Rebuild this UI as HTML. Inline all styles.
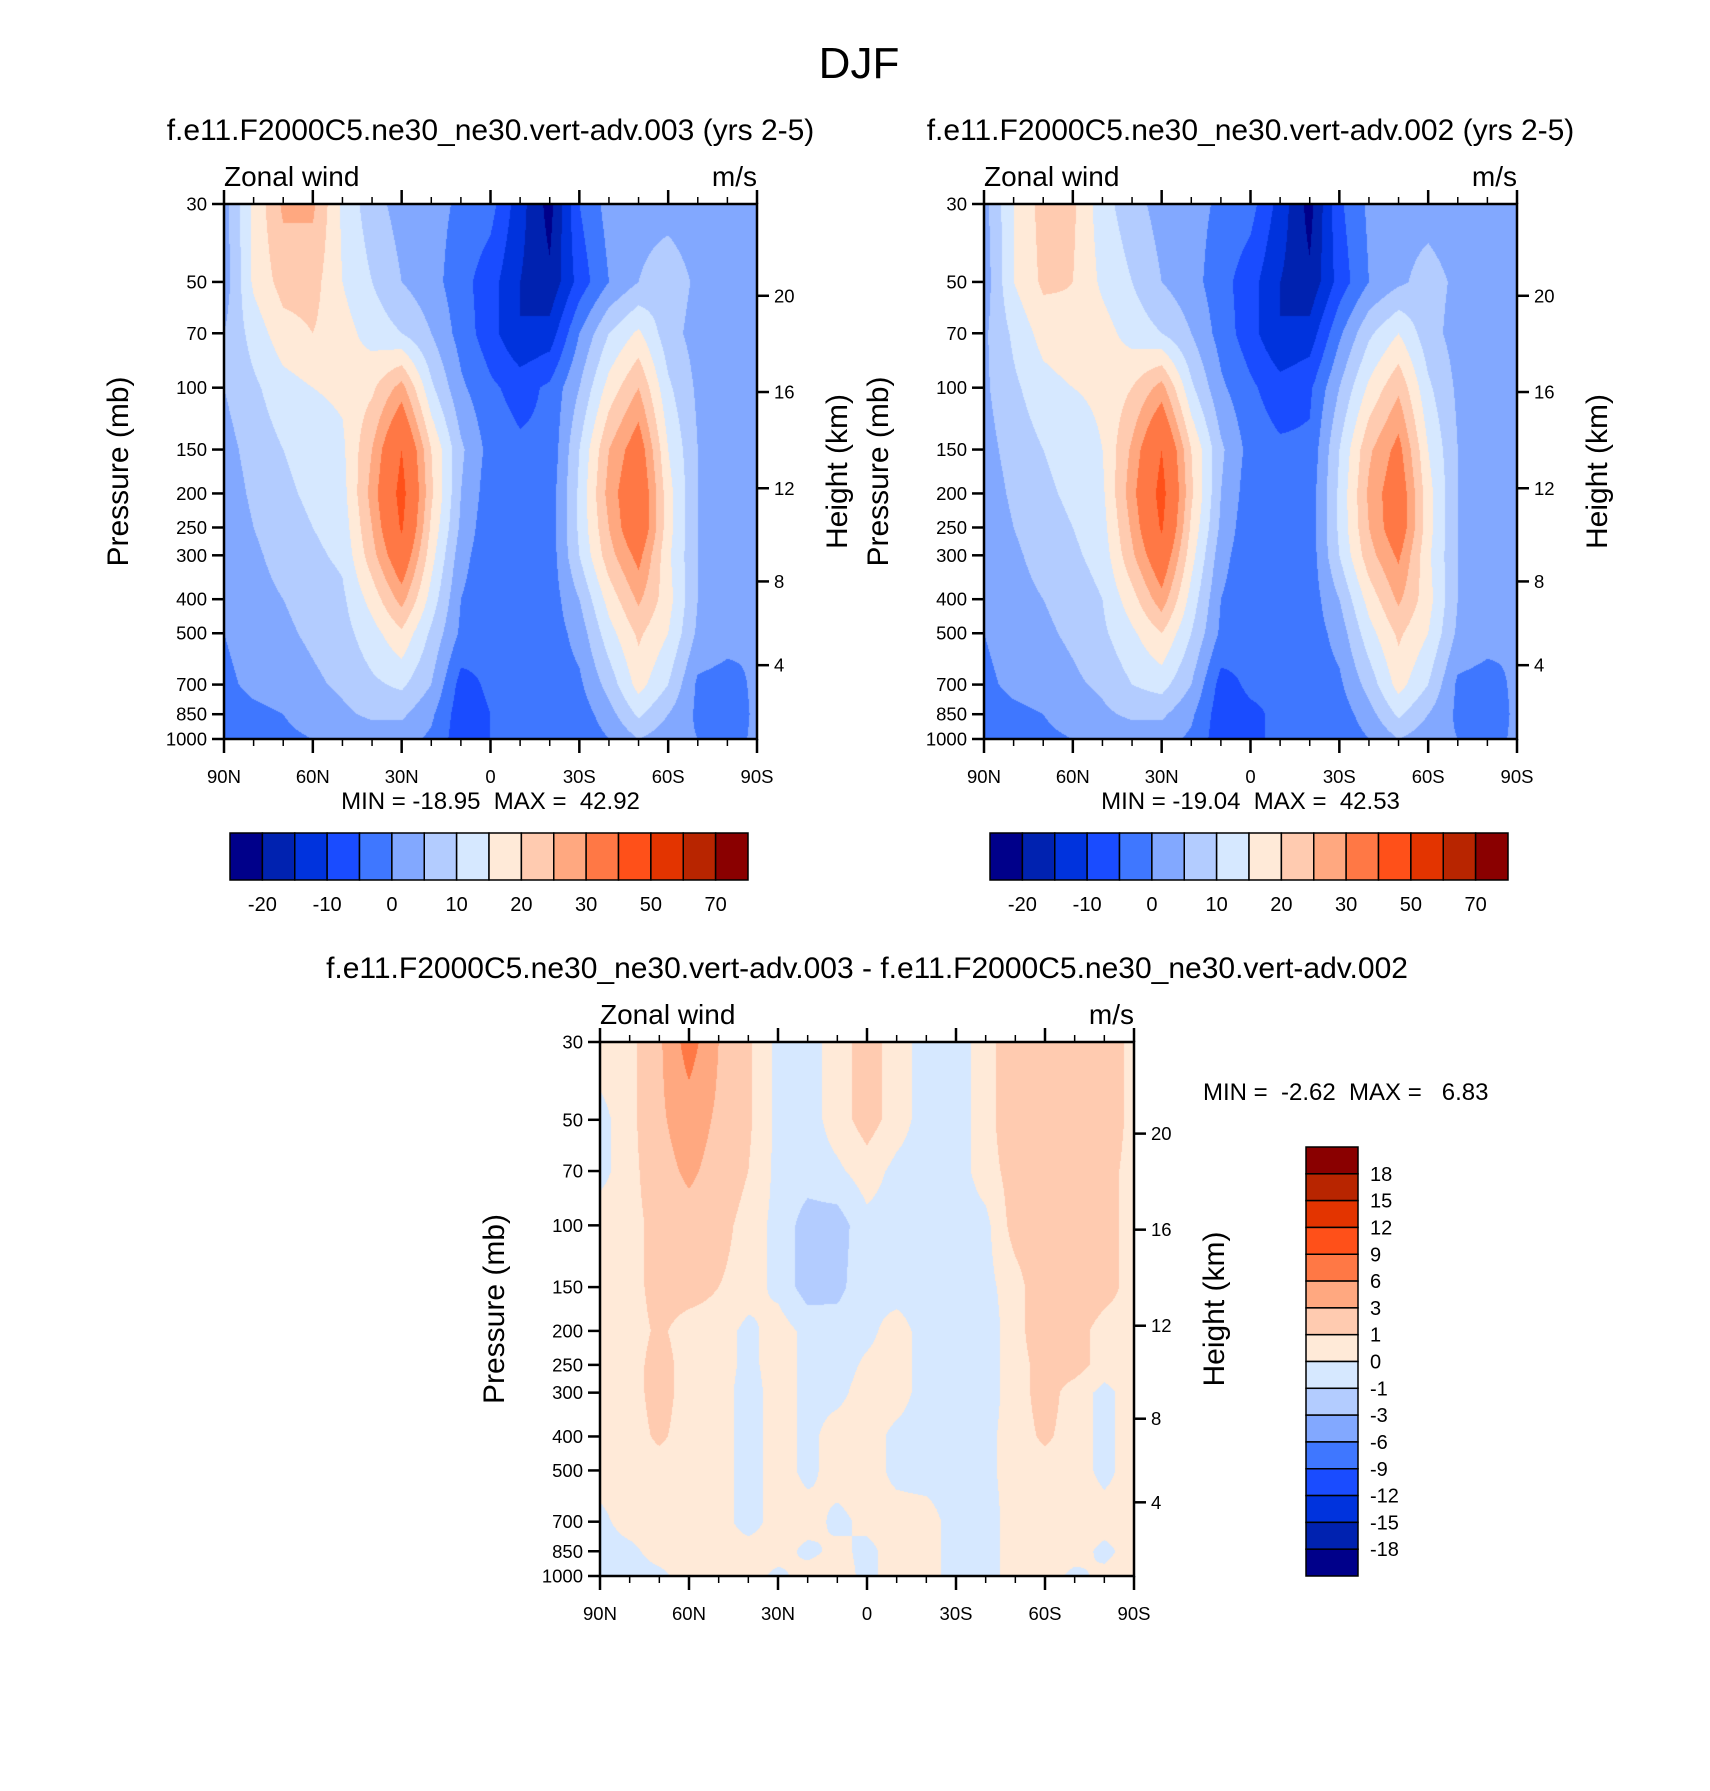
<!DOCTYPE html>
<html><head><meta charset="utf-8">
<style>
html,body{margin:0;padding:0;background:#fff;}
body{width:1710px;height:1791px;position:relative;overflow:hidden;font-family:"Liberation Sans",sans-serif;}
canvas{position:absolute;}
svg{position:absolute;left:0;top:0;}
text{white-space:pre;}
</style></head>
<body>
<canvas id="c1"></canvas>
<canvas id="c2"></canvas>
<canvas id="c3"></canvas>
<svg id="ov" width="1710" height="1791"></svg>
<script>
// ---- data ----
const lats = [90,80,70,60,50,40,30,20,10,0,-10,-20,-30,-40,-50,-60,-70,-80,-90];
const pLevels = [30,50,70,100,150,200,250,300,400,500,700,850,1000];
const pTickLabels = ["30","50","70","100","150","200","250","300","400","500","700","850","1000"];
const latTickValues = [90,60,30,0,-30,-60,-90];
const latTickLabels = ["90N","60N","30N","0","30S","60S","90S"];
const kmTicks = [4,8,12,16,20];
const levelsU = [-20,-15,-10,-5,0,5,10,15,20,25,30,40,50,60,70];
const labelsU = ["-20","-10","0","10","20","30","50","70"];
const levelsD = [-18,-15,-12,-9,-6,-3,-1,0,1,3,6,9,12,15,18];
const labelsD = ["-18","-15","-12","-9","-6","-3","-1","0","1","3","6","9","12","15","18"];
const colors = ["#00008a","#0022b0","#0033dd","#1a4cff","#3f77ff","#82a8ff","#b3ccff","#d6e8ff","#ffead8","#ffcbb0","#ffa880","#ff7845","#ff5019","#e33400","#b82500","#8a0000"];

const u003 = [
[3,16,26,26,14,7,3,2,-1,-3,-13,-22,-5,2,3,3,2,1,1],
[2,16,22,22,15,10,5,2,-3,-8,-15,-19,-8,0,5,8,4,2,1],
[5,12,18,20,17,13,10,5,-2,-8,-15,-13,0,10,16,7,3,1,0],
[5,9,13,15,16,19,27,11,1,-4,-7,-4,5,17,25,11,4,1,0],
[3,7,10,12,14,25,40,20,6,-2,-4,-4,10,25,34,15,5,2,0],
[2,6,9,11,13,27,43,21,5,-3,-4,-3,11,27,37,17,5,2,0],
[1,5,8,10,12,25,41,19,4,-4,-4,-3,11,25,37,17,5,2,0],
[1,4,7,9,11,23,36,17,2,-4,-4,-3,10,23,32,16,5,2,0],
[0,3,5,7,9,17,27,13,0,-4,-4,-3,5,17,26,17,5,2,0],
[0,2,4,6,8,13,19,9,-1,-4,-4,-3,2,13,21,15,4,2,0],
[-1,1,2,4,6,9,11,5,-7,-4,-4,-3,-1,7,17,10,-1,-2,1],
[-2,-1,0,2,4,6,6,1,-8,-5,-4,-3,-3,3,11,5,-1,-3,1],
[-3,-3,-1,0,1,2,2,-1,-8,-5,-4,-5,-4,0,5,2,0,-2,1]];
const u002 = [
[3,15,22,21,12,7,3,2,-1,-3,-12,-22,-6,1,3,3,2,1,1],
[2,15,21,20,14,10,5,2,-3,-8,-15,-19,-8,0,4,7,4,2,1],
[4,11,17,19,17,13,10,5,-2,-8,-15,-13,-1,9,15,7,3,1,0],
[4,9,13,15,16,20,27,11,1,-4,-8,-6,5,16,24,11,4,1,0],
[3,7,10,12,15,26,40,20,6,-2,-4,-4,10,24,32,15,5,2,0],
[2,6,9,11,14,28,43,21,5,-3,-4,-3,11,26,35,17,5,2,0],
[1,5,8,10,13,26,41,19,4,-4,-4,-3,11,25,35,17,5,2,0],
[1,4,7,9,12,24,36,17,2,-4,-4,-3,10,23,31,16,5,2,0],
[0,3,5,7,10,18,28,13,0,-4,-4,-3,5,17,26,17,5,2,0],
[0,2,4,6,9,14,20,10,-1,-4,-4,-3,2,13,21,15,4,2,0],
[-1,1,2,4,6,10,12,5,-7,-4,-4,-3,-1,7,17,10,-1,-2,1],
[-2,-1,0,2,4,6,6,1,-8,-6,-4,-3,-3,3,11,5,-1,-3,1],
[-3,-3,-1,0,1,2,2,-1,-8,-6,-4,-5,-4,0,5,2,0,-2,1]];
const uDiff = [
[0.5,0.5,2.5,7.5,3,1.2,-0.3,-0.5,0.5,1.5,0.5,-0.5,-0.5,0.5,2,2,2,2,0.5],
[-0.3,0.5,2.5,4.5,2.5,1.2,-0.3,-0.5,0.5,1.5,0.5,-0.5,-0.5,0.5,2,2,2,2,0.5],
[-0.3,0.5,2,3.5,2,1,-0.3,-0.5,-0.2,0.5,-0.3,-0.5,-0.5,0.5,1.5,2,2,1.5,0.5],
[0.5,0.5,1.5,2,1.5,0.5,-0.3,-1.5,-1.5,-0.3,-0.5,-0.5,-0.5,-0.3,1.5,2,2,1.5,0.5],
[0.5,0.5,1.5,1.5,1,0.5,-0.3,-1.5,-1.3,-0.3,-0.5,-0.5,-0.5,-0.3,0.5,2,2,1.5,0.5],
[0.5,0.5,1.2,0.5,0.5,-0.3,0.5,-0.3,-0.5,-0.3,0.5,-0.5,-0.5,-0.5,0.5,2,1.5,0.5,0.5],
[0.5,0.5,1.5,0.5,0.5,-0.3,0.5,-0.3,-0.5,0.2,0.5,-0.5,-0.3,-0.5,0.5,1.5,1.5,0.5,0.5],
[0.5,0.5,1.5,0.5,0.5,-0.5,0.5,-0.3,-0.3,0.5,0.5,-0.5,-0.3,-0.5,0.5,1.5,0.5,-0.3,0.5],
[0.5,0.5,1.2,0.5,0.5,-0.5,0.5,-0.3,0.5,0.5,-0.3,-0.5,-0.5,-0.3,0.5,1.2,0.5,-0.3,0.5],
[0.5,0.5,0.5,0.5,0.5,-0.5,0.5,-0.3,0.5,0.5,-0.3,-0.5,-0.5,-0.3,0.5,0.5,0.5,-0.3,0.5],
[-0.3,0.5,0.5,0.5,0.5,-0.5,0.5,0.5,-0.3,0.3,0.5,0.5,-0.5,-0.5,0.5,0.5,0.5,0.5,0.3],
[-0.5,-0.3,0.5,0.5,0.5,0.5,0.5,-0.3,0.3,-0.3,0.5,0.5,-0.5,-0.5,0.5,0.5,0.5,-0.3,0.5],
[-0.5,-0.5,-0.3,0.5,0.5,0.5,-0.3,0.5,0.5,-0.3,0.5,0.5,-0.5,-0.5,0.5,0.5,-0.3,0.3,0.5]];

// ---- layout ----
const panels = [
 {id:'c1',name:'panel-003',x0:224,x1:757,y0:204,y1:739,data:u003,levels:levelsU,
  title:'f.e11.F2000C5.ne30_ne30.vert-adv.003 (yrs 2-5)',minmax:'MIN = -18.95  MAX =  42.92',cb:{x0:230,x1:748,y0:833,y1:880}},
 {id:'c2',name:'panel-002',x0:984,x1:1517,y0:204,y1:739,data:u002,levels:levelsU,
  title:'f.e11.F2000C5.ne30_ne30.vert-adv.002 (yrs 2-5)',minmax:'MIN = -19.04  MAX =  42.53',cb:{x0:990,x1:1508,y0:833,y1:880}},
 {id:'c3',name:'panel-diff',x0:600,x1:1134,y0:1042,y1:1576,data:uDiff,levels:levelsD,
  title:'f.e11.F2000C5.ne30_ne30.vert-adv.003 - f.e11.F2000C5.ne30_ne30.vert-adv.002',minmax:'MIN =  -2.62  MAX =   6.83'}
];
const LN0=Math.log(30), LN1=Math.log(1000);
function yOfP(P,p){return P.y0+(Math.log(p)-LN0)/(LN1-LN0)*(P.y1-P.y0);}
function xOfLat(P,l){return P.x0+(90-l)/180*(P.x1-P.x0);}
function pOfKm(z){const m=z*1000; return m<=11000?1013.25*Math.pow(1-2.25577e-5*m,5.25588):226.32*Math.exp(-(m-11000)/6341.6);}
function cls(v,lev){let i=0;while(i<lev.length&&v>=lev[i])i++;return i;}
function hex(c){return [parseInt(c.substr(1,2),16),parseInt(c.substr(3,2),16),parseInt(c.substr(5,2),16)];}
const rgb=colors.map(hex);
const lnP=pLevels.map(Math.log);

panels.forEach(P=>{
 const cv=document.getElementById(P.id);
 const W=P.x1-P.x0,H=P.y1-P.y0;
 cv.width=W;cv.height=H;cv.style.left=P.x0+'px';cv.style.top=P.y0+'px';
 const ctx=cv.getContext('2d');const img=ctx.createImageData(W,H);
 for(let py=0;py<H;py++){
  const lp=LN0+(py+0.5)/H*(LN1-LN0);
  let j=0;while(j<lnP.length-2&&lp>lnP[j+1])j++;
  let ty=(lp-lnP[j])/(lnP[j+1]-lnP[j]);ty=Math.max(0,Math.min(1,ty));
  for(let px=0;px<W;px++){
   const fx=(px+0.5)/W*(lats.length-1);
   let i=Math.min(Math.floor(fx),lats.length-2);const tx=fx-i;
   const d=P.data;
   const v=(d[j][i]*(1-tx)+d[j][i+1]*tx)*(1-ty)+(d[j+1][i]*(1-tx)+d[j+1][i+1]*tx)*ty;
   const c=rgb[cls(v,P.levels)];const k=(py*W+px)*4;
   img.data[k]=c[0];img.data[k+1]=c[1];img.data[k+2]=c[2];img.data[k+3]=255;
  }
 }
 ctx.putImageData(img,0,0);
});

// ---- overlay ----
const svg=document.getElementById('ov');const NS='http://www.w3.org/2000/svg';
function el(tag,attrs,parent){const e=document.createElementNS(NS,tag);for(const k in attrs)e.setAttribute(k,attrs[k]);(parent||svg).appendChild(e);return e;}
function txt(s,x,y,size,anchor,parent,rot){const t=el('text',{x:x,y:y,'font-size':size,'text-anchor':anchor||'middle','font-family':'Liberation Sans, sans-serif',fill:'#000'},parent);if(rot)t.setAttribute('transform','rotate(-90 '+x+' '+y+')');t.textContent=s;return t;}

const main=txt('DJF',859,78,44,'middle');



panels.forEach((P,pi)=>{
 const g=el('g',{});
 
 
 const cx=(P.x0+P.x1)/2;
 const t=txt(P.title,cx,P.y0-64,30,'middle',g);
 
 
 const zw=txt('Zonal wind',P.x0,P.y0-18,28,'start',g);
 
 
 const un=txt('m/s',P.x1,P.y0-18,28,'end',g);
 
 
 el('rect',{x:P.x0,y:P.y0,width:P.x1-P.x0,height:P.y1-P.y0,fill:'none',stroke:'#000','stroke-width':2.5},g);
 for(let l=90;l>=-90;l-=10){
  const x=xOfLat(P,l);const major=(l%30===0);const len=major?14:7;
  el('line',{x1:x,x2:x,y1:P.y1,y2:P.y1+len,stroke:'#000','stroke-width':major?2.5:1.5},g);
  el('line',{x1:x,x2:x,y1:P.y0,y2:P.y0-len,stroke:'#000','stroke-width':major?2.5:1.5},g);
 }
 latTickValues.forEach((l,k)=>{const tl=txt(latTickLabels[k],xOfLat(P,l),P.y1+44,18.5,'middle',g);
  
  });
 pLevels.forEach((p,k)=>{const y=yOfP(P,p);
  el('line',{x1:P.x0-12,x2:P.x0,y1:y,y2:y,stroke:'#000','stroke-width':2.5},g);
  const tl=txt(pTickLabels[k],P.x0-17,y+6.5,18.5,'end',g);
  
  });
 kmTicks.forEach(z=>{const y=yOfP(P,pOfKm(z));
  el('line',{x1:P.x1,x2:P.x1+12,y1:y,y2:y,stroke:'#000','stroke-width':2.5},g);
  const tl=txt(String(z),P.x1+17,y+6.5,18.5,'start',g);
  
  });
 const cy=(P.y0+P.y1)/2;
 const yt=txt('Pressure (mb)',P.x0-96,cy,30,'middle',g,true);
 
 
 const ht=txt('Height (km)',P.x1+90,cy,30,'middle',g,true);
 
 
 if(P.cb){
  const mm=txt(P.minmax,cx,P.y1+70,24,'middle',g);
  
  
  const cb=P.cb;const w=(cb.x1-cb.x0)/colors.length;
  colors.forEach((c,k)=>{const r=el('rect',{x:cb.x0+k*w,y:cb.y0,width:w,height:cb.y1-cb.y0,fill:c,stroke:'#000','stroke-width':1.5},g);
   
   });
  labelsU.forEach((s,k)=>{const l=txt(s,cb.x0+(1+2*k)*w,cb.y1+31,20,'middle',g);
   
   });
 } else {
  const mm=txt(P.minmax,1203,1100,24,'start',g);
  
  
  const x0=1306,x1=1358,y0=1147,y1=1576;const h=(y1-y0)/colors.length;
  colors.slice().reverse().forEach((c,k)=>{const r=el('rect',{x:x0,y:y0+k*h,width:x1-x0,height:h,fill:c,stroke:'#000','stroke-width':1.5},g);
   
   });
  labelsD.slice().reverse().forEach((s,k)=>{const l=txt(s,x1+12,y0+(k+1)*h+7,20,'start',g);
   
   });
 }
});
</script>
</body></html>
